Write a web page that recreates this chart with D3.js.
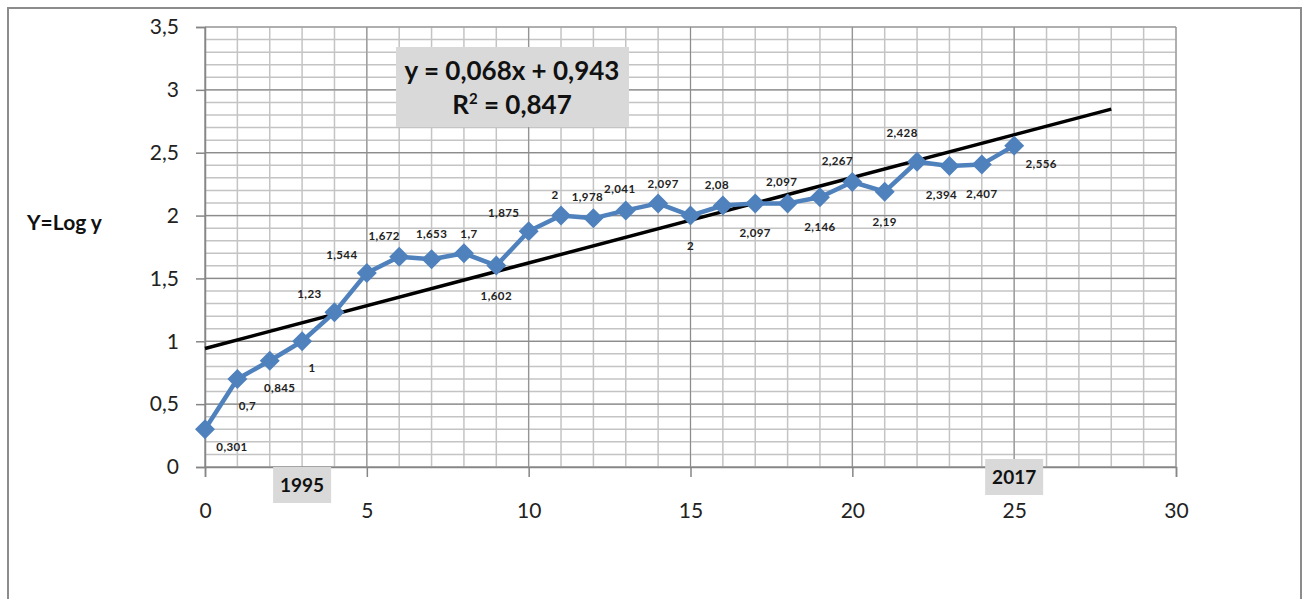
<!DOCTYPE html>
<html>
<head>
<meta charset="utf-8">
<script src="https://cdn.jsdelivr.net/npm/d3@7"></script>
<style>
  body { margin: 0; background: #fff; }
  svg { display: block; font-family: Lato, "Open Sans", sans-serif; }
</style>
</head>
<body>
<div id="chart"></div>
<script>
// x = year index, y = log value
const xValues = d3.range(0, 26);
const logValues = [0.301, 0.7, 0.845, 1, 1.23, 1.544, 1.672, 1.653, 1.7, 1.602,
                   1.875, 2, 1.978, 2.041, 2.097, 2, 2.08, 2.097, 2.097, 2.146,
                   2.267, 2.19, 2.428, 2.394, 2.407, 2.556];
// where each data label sits relative to its point
const labelSide = ["br", "bs", "bs", "bs", "al", "al", "am", "a0", "ar", "b",
                   "al", "a", "a", "a", "ar", "b", "a", "b", "a", "b",
                   "am", "b", "ah", "bl", "b", "br"];
const trend = { slope: 0.068, intercept: 0.943, r2: 0.847, xEnd: 28 };
const yearMarks = [{ x: 3, label: "1995" }, { x: 25, label: "2017" }];
const xTicks = [0, 5, 10, 15, 20, 25, 30];
const yTicks = [0, 0.5, 1, 1.5, 2, 2.5, 3, 3.5];

const width = 1309, height = 599;
const svg = d3.select("#chart").append("svg").attr("width", width).attr("height", height);

// outer chart frame
svg.append("rect")
  .attr("x", 8).attr("y", 8).attr("width", 1293).attr("height", 620)
  .attr("fill", "#fff").attr("stroke", "#8c8c8c").attr("stroke-width", 2);

const x = d3.scaleLinear().domain([0, 30]).range([205, 1176]);
const y = d3.scaleLinear().domain([0, 3.5]).range([467, 27]);
const comma = v => String(v).replace(".", ",");

// minor grid
const grid = svg.append("g");
grid.selectAll(".vmin").data(d3.range(0, 31)).join("line")
  .attr("x1", d => x(d)).attr("x2", d => x(d)).attr("y1", y(0)).attr("y2", y(3.5))
  .attr("stroke", "#c4c4c4").attr("stroke-width", 1.5);
grid.selectAll(".hmin").data(d3.range(0, 36).map(d => d / 10)).join("line")
  .attr("x1", x(0)).attr("x2", x(30)).attr("y1", d => y(d)).attr("y2", d => y(d))
  .attr("stroke", "#c4c4c4").attr("stroke-width", 1.5);
// major grid
grid.selectAll(".vmaj").data(xTicks).join("line")
  .attr("x1", d => x(d)).attr("x2", d => x(d)).attr("y1", y(0)).attr("y2", y(3.5))
  .attr("stroke", "#8c8c8c").attr("stroke-width", 1);
grid.selectAll(".hmaj").data(yTicks).join("line")
  .attr("x1", x(0)).attr("x2", x(30)).attr("y1", d => y(d)).attr("y2", d => y(d))
  .attr("stroke", "#8c8c8c").attr("stroke-width", 1.2);

// axes
const yAxis = svg.append("g").attr("transform", `translate(${x(0)},0)`)
  .call(d3.axisLeft(y).tickValues(yTicks).tickSize(9).tickPadding(17).tickFormat(comma));
const xAxis = svg.append("g").attr("transform", `translate(0,${y(0)})`)
  .call(d3.axisBottom(x).tickValues(xTicks).tickSize(10).tickPadding(26).tickFormat(comma));
[xAxis, yAxis].forEach(a => {
  a.selectAll("path, line").attr("stroke", "#868686").attr("stroke-width", 1.5);
  a.selectAll("text").attr("font-size", 21).attr("fill", "#222")
    .attr("font-family", "Lato, 'Open Sans', sans-serif");
});

// y axis title
svg.append("text").attr("x", 27).attr("y", 230)
  .attr("font-size", 21).attr("font-weight", "bold").attr("fill", "#111")
  .text("Y=Log y");

// trend line
svg.append("line")
  .attr("x1", x(0)).attr("y1", y(trend.intercept))
  .attr("x2", x(trend.xEnd)).attr("y2", y(trend.intercept + trend.slope * trend.xEnd))
  .attr("stroke", "#000").attr("stroke-width", 3.5);

// data line + markers
const points = xValues.map((d, i) => ({ x: d, v: logValues[i], side: labelSide[i] }));
svg.append("path").datum(points)
  .attr("fill", "none").attr("stroke", "#4f81bd").attr("stroke-width", 4.5)
  .attr("stroke-linejoin", "round")
  .attr("d", d3.line().x(d => x(d.x)).y(d => y(d.v)));
svg.selectAll(".mk").data(points).join("path")
  .attr("transform", d => `translate(${x(d.x)},${y(d.v)})`)
  .attr("d", "M0,-10L10,0L0,10L-10,0Z")
  .attr("fill", "#4f81bd");

// data labels
const offsets = {
  a:  { dx: -6, dy: -17 },
  a0: { dx: 0, dy: -21 },
  ar: { dx: 5, dy: -15 },
  am: { dx: -15, dy: -17 },
  ah: { dx: -15, dy: -25 },
  al: { dx: -25, dy: -14 },
  b:  { dx: 0, dy: 34 },
  bl: { dx: -8, dy: 33 },
  bs: { dx: 10, dy: 31 },
  br: { dx: 27, dy: 22 }
};
svg.selectAll(".lbl").data(points).join("text")
  .attr("x", d => x(d.x) + offsets[d.side].dx)
  .attr("y", d => y(d.v) + offsets[d.side].dy)
  .attr("text-anchor", "middle")
  .attr("font-size", 11.5).attr("font-weight", "bold").attr("fill", "#222")
  .attr("letter-spacing", 0.4)
  .text(d => comma(d.v));

// equation box
const eq = svg.append("g");
eq.append("rect").attr("x", 396).attr("y", 47).attr("width", 233).attr("height", 80).attr("fill", "#d9d9d9");
eq.append("text").attr("x", 512).attr("y", 80).attr("text-anchor", "middle")
  .attr("font-size", 26).attr("font-weight", "bold").attr("fill", "#111")
  .text(`y = ${comma(trend.slope)}x + ${comma(trend.intercept)}`);
const r2 = eq.append("text").attr("x", 512).attr("y", 114).attr("text-anchor", "middle")
  .attr("font-size", 26).attr("font-weight", "bold").attr("fill", "#111");
r2.append("tspan").text("R");
r2.append("tspan").attr("font-size", 15).attr("dy", -10).text("2");
r2.append("tspan").attr("dy", 10).text(` = ${comma(trend.r2)}`);

// year boxes
const yr = svg.selectAll(".yr").data(yearMarks).join("g")
  .attr("transform", (d, i) => `translate(${x(d.x)},${i === 0 ? 485 : 477})`);
yr.append("rect").attr("x", -29).attr("y", -18).attr("width", 58).attr("height", 36).attr("fill", "#d9d9d9");
yr.append("text").attr("text-anchor", "middle").attr("dy", "0.36em")
  .attr("font-size", 19).attr("font-weight", "bold").attr("fill", "#111")
  .text(d => d.label);
</script>
</body>
</html>
